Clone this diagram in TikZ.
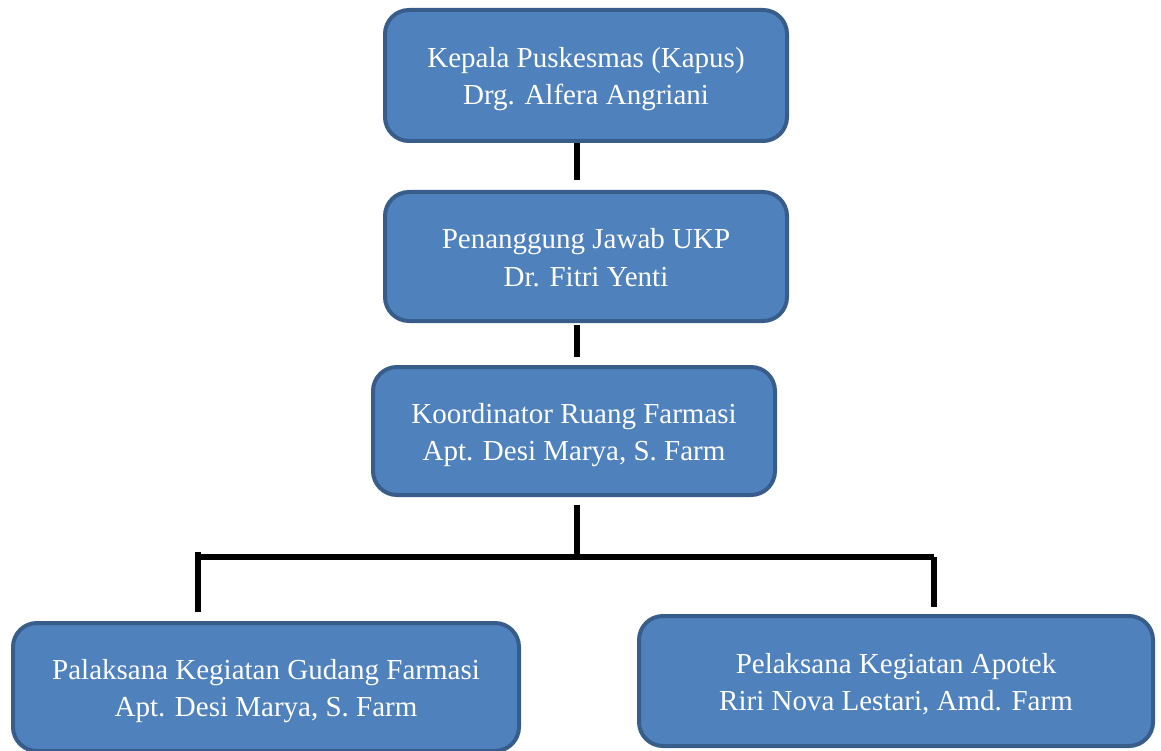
\documentclass[tikz,border=0pt]{standalone}
\usepackage{fontspec}
\setmainfont{Liberation Serif}
\usetikzlibrary{positioning}

\definecolor{boxfill}{HTML}{4F81BD}
\definecolor{boxline}{HTML}{385D8A}

\tikzset{
    orgbox/.style={draw=boxline, line width=4pt, fill=boxfill, rounded corners=24pt,
        text=white, align=center, font=\fontsize{29}{37}\selectfont,
        inner sep=0pt, text height=65pt, text depth=6pt},
    link/.style={line width=6pt, black}
}

\begin{document}
\begin{tikzpicture}[x=1pt, y=-1pt]
        \useasboundingbox (0,0) rectangle (1161,751);

        % Boxes
        \node[orgbox, minimum width=402pt, minimum height=131pt] (kapus) at (586,75.5)
            {Kepala Puskesmas (Kapus)\\Drg. Alfera Angriani};
        \node[orgbox, minimum width=402pt, minimum height=129pt] (ukp) at (586,256.5)
            {Penanggung Jawab UKP\\Dr. Fitri Yenti};
        \node[orgbox, minimum width=402pt, minimum height=128pt] (koord) at (574,431)
            {Koordinator Ruang Farmasi\\Apt. Desi Marya, S. Farm};
        \node[orgbox, minimum width=506pt, minimum height=128pt] (gudang) at (266,687)
            {Palaksana Kegiatan Gudang Farmasi\\Apt. Desi Marya, S. Farm};
        \node[orgbox, minimum width=514pt, minimum height=130pt] (apotek) at (896,681)
            {Pelaksana Kegiatan Apotek\\Riri Nova Lestari, Amd. Farm};

        % Connectors
        \coordinate (a1) at (577,143);
        \coordinate (a2) at (577,180);
        \coordinate (b1) at (577,325);
        \coordinate (b2) at (577,357);
        \coordinate (c1) at (577,505);
        \coordinate (c2) at (577,557);
        \coordinate (hl) at (198,557);
        \coordinate (hr) at (934,557);
        \coordinate (dl) at (198,612);
        \coordinate (dr) at (934,607);

        \draw[link] (a1) -- (a2);
        \draw[link] (b1) -- (b2);
        \draw[link] (c1) -- (c2);
        \draw[link] (hl) -- (hr);
        \draw[link] ([yshift=5pt]hl) -- (dl);
        \draw[link] (hr) -- (dr);
\end{tikzpicture}
\end{document}
